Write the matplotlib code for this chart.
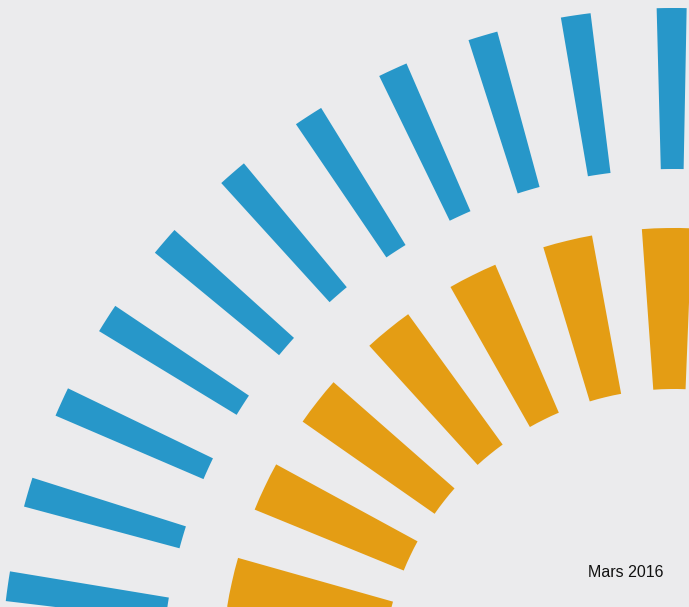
import numpy as np
import matplotlib
matplotlib.use("Agg")
import matplotlib.pyplot as plt

# angles des barres (degrés) et rayons
blue_angles = [90.2, 98.4, 106.5, 114.7, 122.9, 131.0, 139.2, 147.4, 155.5, 163.7, 171.9]
blue_bottom = [512] * 11
blue_length = [161] * 11

orange_angles = [90.9, 103.6, 116.4, 129.1, 141.9, 154.6, 167.4]
orange_bottom = [292] * 7
orange_length = [161] * 7

date_label = "Mars 2016"

bg = '#ebebed'
blue = '#2797c9'
orange = '#e49d14'

W, H = 689, 607
fig = plt.figure(figsize=(W / 100, H / 100), dpi=100, facecolor=bg)

# centre du graphique polaire hors de l'image (en bas à droite)
cx, cy = 674, H - 681
R = 700
ax = fig.add_axes([(cx - R) / W, (cy - R) / H, 2 * R / W, 2 * R / H], projection='polar')
ax.set_facecolor(bg)
ax.set_ylim(0, R)

ax.bar(np.deg2rad(blue_angles), blue_length, width=0.0446, bottom=blue_bottom,
       color=blue, edgecolor='none')
ax.bar(np.deg2rad(orange_angles), orange_length, width=0.1106, bottom=orange_bottom,
       color=orange, edgecolor='none')
ax.set_axis_off()

fig.text(664 / W, 1 - 577 / H, date_label, ha='right', va='baseline',
         fontsize=11.5, family='Liberation Sans', color='#111111')

fig.savefig('out.png', dpi=100, facecolor=bg)
